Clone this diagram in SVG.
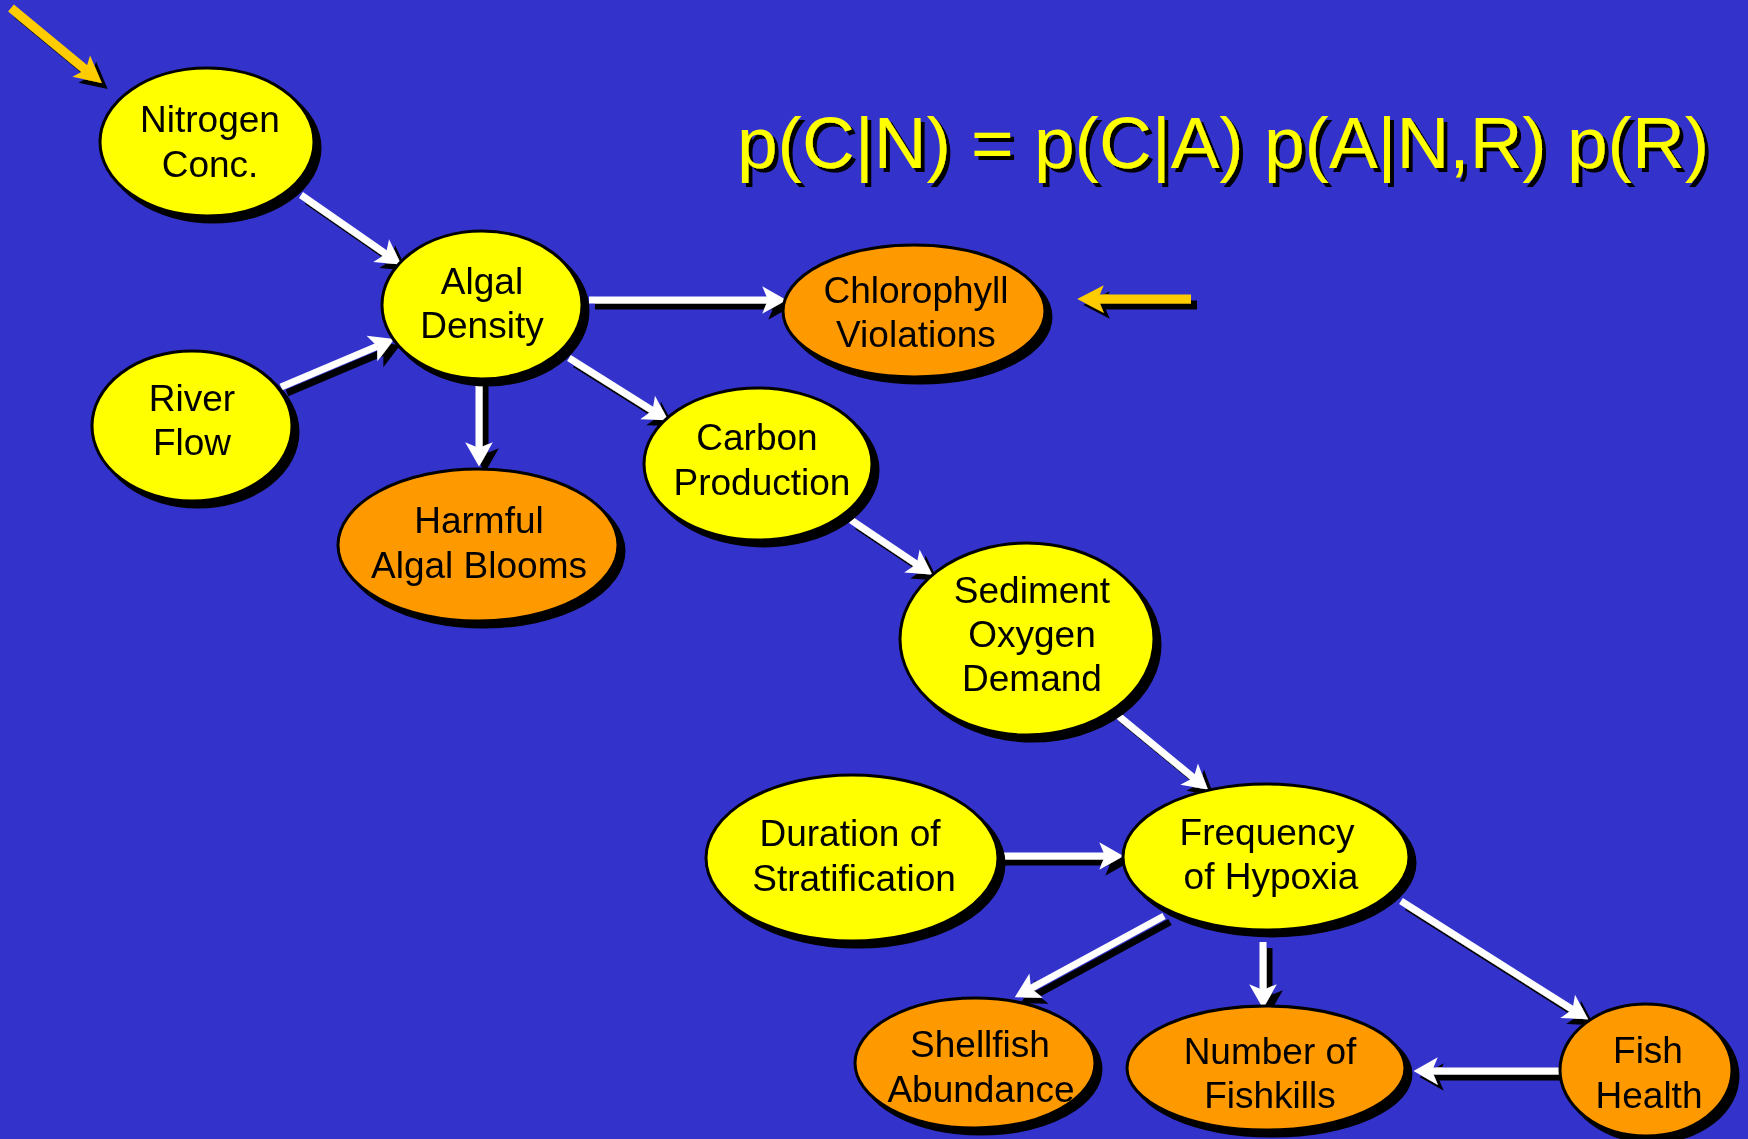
<svg xmlns="http://www.w3.org/2000/svg" width="1748" height="1139" viewBox="0 0 1748 1139">
<defs>
<filter id="sh" filterUnits="userSpaceOnUse" x="0" y="0" width="1748" height="1139">
<feOffset in="SourceAlpha" dx="6" dy="6" result="o"/>
<feColorMatrix in="o" type="matrix" values="0 0 0 0 0  0 0 0 0 0  0 0 0 0 0  0 0 0 1 0" result="b"/>
<feMerge><feMergeNode in="b"/><feMergeNode in="SourceGraphic"/></feMerge>
</filter>
<filter id="shs" filterUnits="userSpaceOnUse" x="0" y="0" width="1748" height="1139">
<feOffset in="SourceAlpha" dx="4" dy="4" result="o"/>
<feColorMatrix in="o" type="matrix" values="0 0 0 0 0  0 0 0 0 0  0 0 0 0 0  0 0 0 1 0" result="b"/>
<feMerge><feMergeNode in="b"/><feMergeNode in="SourceGraphic"/></feMerge>
</filter>
<marker id="aw" markerUnits="userSpaceOnUse" markerWidth="30" markerHeight="30" viewBox="0 -13 24 26" refX="5" refY="0" orient="auto" overflow="visible">
<path d="M0,-12 L21,0 L0,12 L5,0 Z" fill="#ffffff"/>
</marker>
<marker id="ag" markerUnits="userSpaceOnUse" markerWidth="30" markerHeight="30" viewBox="0 -13 24 26" refX="5" refY="0" orient="auto" overflow="visible">
<path d="M0,-12 L23,0 L0,12 L5,0 Z" fill="#ffcc00"/>
</marker>
</defs>
<style>
.bg{fill:#3333cc}
.y{fill:#ffff00;stroke:#000;stroke-width:3}
.o{fill:#ff9900;stroke:#000;stroke-width:3}
.t{font-family:"Liberation Sans",Arial,sans-serif;font-size:37px;fill:#000;text-anchor:middle}
.w{stroke:#fff;stroke-width:7;fill:none;marker-end:url(#aw)}
.g{stroke:#ffcc00;stroke-width:9;fill:none;marker-end:url(#ag)}
.f{font-family:"Liberation Sans",Arial,sans-serif;font-size:72px;fill:#ffff00}
</style>
<rect class="bg" x="0" y="0" width="1748" height="1139"/>

<g id="formula" filter="url(#shs)">
<text class="f" x="737" y="168" textLength="972" lengthAdjust="spacingAndGlyphs">p(C|N) = p(C|A) p(A|N,R) p(R)</text>
</g>

<g id="connectors" filter="url(#sh)">
<line class="w" x1="301" y1="195" x2="385.9" y2="253.9"/>
<line class="w" x1="281" y1="387" x2="377.3" y2="346.2"/>
<line class="w" x1="479" y1="380" x2="479" y2="448"/>
<line class="w" x1="589" y1="300" x2="768" y2="300"/>
<line class="w" x1="569" y1="358" x2="652.5" y2="410.5"/>
<line class="w" x1="851" y1="520" x2="916.7" y2="564.1"/>
<line class="w" x1="1115" y1="713" x2="1193.6" y2="777.8"/>
<line class="w" x1="999" y1="856" x2="1105" y2="856"/>
<line class="w" x1="1164" y1="916" x2="1031" y2="988.4"/>
<line class="w" x1="1263" y1="942" x2="1263" y2="990"/>
<line class="w" x1="1401" y1="901" x2="1572.5" y2="1009.5"/>
<line class="w" x1="1560" y1="1071" x2="1432" y2="1071"/>
<line class="g" x1="11" y1="8" x2="85.7" y2="69.8"/>
<line class="g" x1="1191" y1="299" x2="1098" y2="299"/>
</g>

<g id="nitrogen" filter="url(#sh)">
<ellipse class="y" cx="207" cy="142" rx="107" ry="74"/>
<text class="t" x="210" y="132">Nitrogen</text>
<text class="t" x="210" y="177">Conc.</text>
</g>
<g id="algal" filter="url(#sh)">
<ellipse class="y" cx="482" cy="305" rx="100" ry="74"/>
<text class="t" x="482" y="294">Algal</text>
<text class="t" x="482" y="338">Density</text>
</g>
<g id="river" filter="url(#sh)">
<ellipse class="y" cx="192" cy="426" rx="100" ry="75"/>
<text class="t" x="192" y="411">River</text>
<text class="t" x="192" y="455">Flow</text>
</g>
<g id="chlorophyll" filter="url(#sh)">
<ellipse class="o" cx="914" cy="311" rx="131" ry="66"/>
<text class="t" x="916" y="303">Chlorophyll</text>
<text class="t" x="916" y="347">Violations</text>
</g>
<g id="harmful" filter="url(#sh)">
<ellipse class="o" cx="478" cy="545" rx="140" ry="76"/>
<text class="t" x="479" y="533">Harmful</text>
<text class="t" x="479" y="578">Algal Blooms</text>
</g>
<g id="carbon" filter="url(#sh)">
<ellipse class="y" cx="758" cy="464" rx="114" ry="76"/>
<text class="t" x="757" y="450">Carbon</text>
<text class="t" x="762" y="495">Production</text>
</g>
<g id="sediment" filter="url(#sh)">
<ellipse class="y" cx="1027" cy="639" rx="127" ry="96"/>
<text class="t" x="1032" y="603">Sediment</text>
<text class="t" x="1032" y="647">Oxygen</text>
<text class="t" x="1032" y="691">Demand</text>
</g>
<g id="duration" filter="url(#sh)">
<ellipse class="y" cx="852" cy="858" rx="146" ry="83"/>
<text class="t" x="850" y="846">Duration of</text>
<text class="t" x="854" y="891">Stratification</text>
</g>
<g id="hypoxia" filter="url(#sh)">
<ellipse class="y" cx="1266" cy="857" rx="143" ry="73"/>
<text class="t" x="1267" y="845">Frequency</text>
<text class="t" x="1271" y="889">of Hypoxia</text>
</g>
<g id="shellfish" filter="url(#sh)">
<ellipse class="o" cx="975" cy="1063" rx="120" ry="65"/>
<text class="t" x="980" y="1057">Shellfish</text>
<text class="t" x="981" y="1102">Abundance</text>
</g>
<g id="fishkills" filter="url(#sh)">
<ellipse class="o" cx="1266" cy="1068" rx="139" ry="62"/>
<text class="t" x="1270" y="1064">Number of</text>
<text class="t" x="1270" y="1108">Fishkills</text>
</g>
<g id="fishhealth" filter="url(#sh)">
<ellipse class="o" cx="1646" cy="1070" rx="86" ry="66"/>
<text class="t" x="1648" y="1063">Fish</text>
<text class="t" x="1649" y="1108">Health</text>
</g>
</svg>
